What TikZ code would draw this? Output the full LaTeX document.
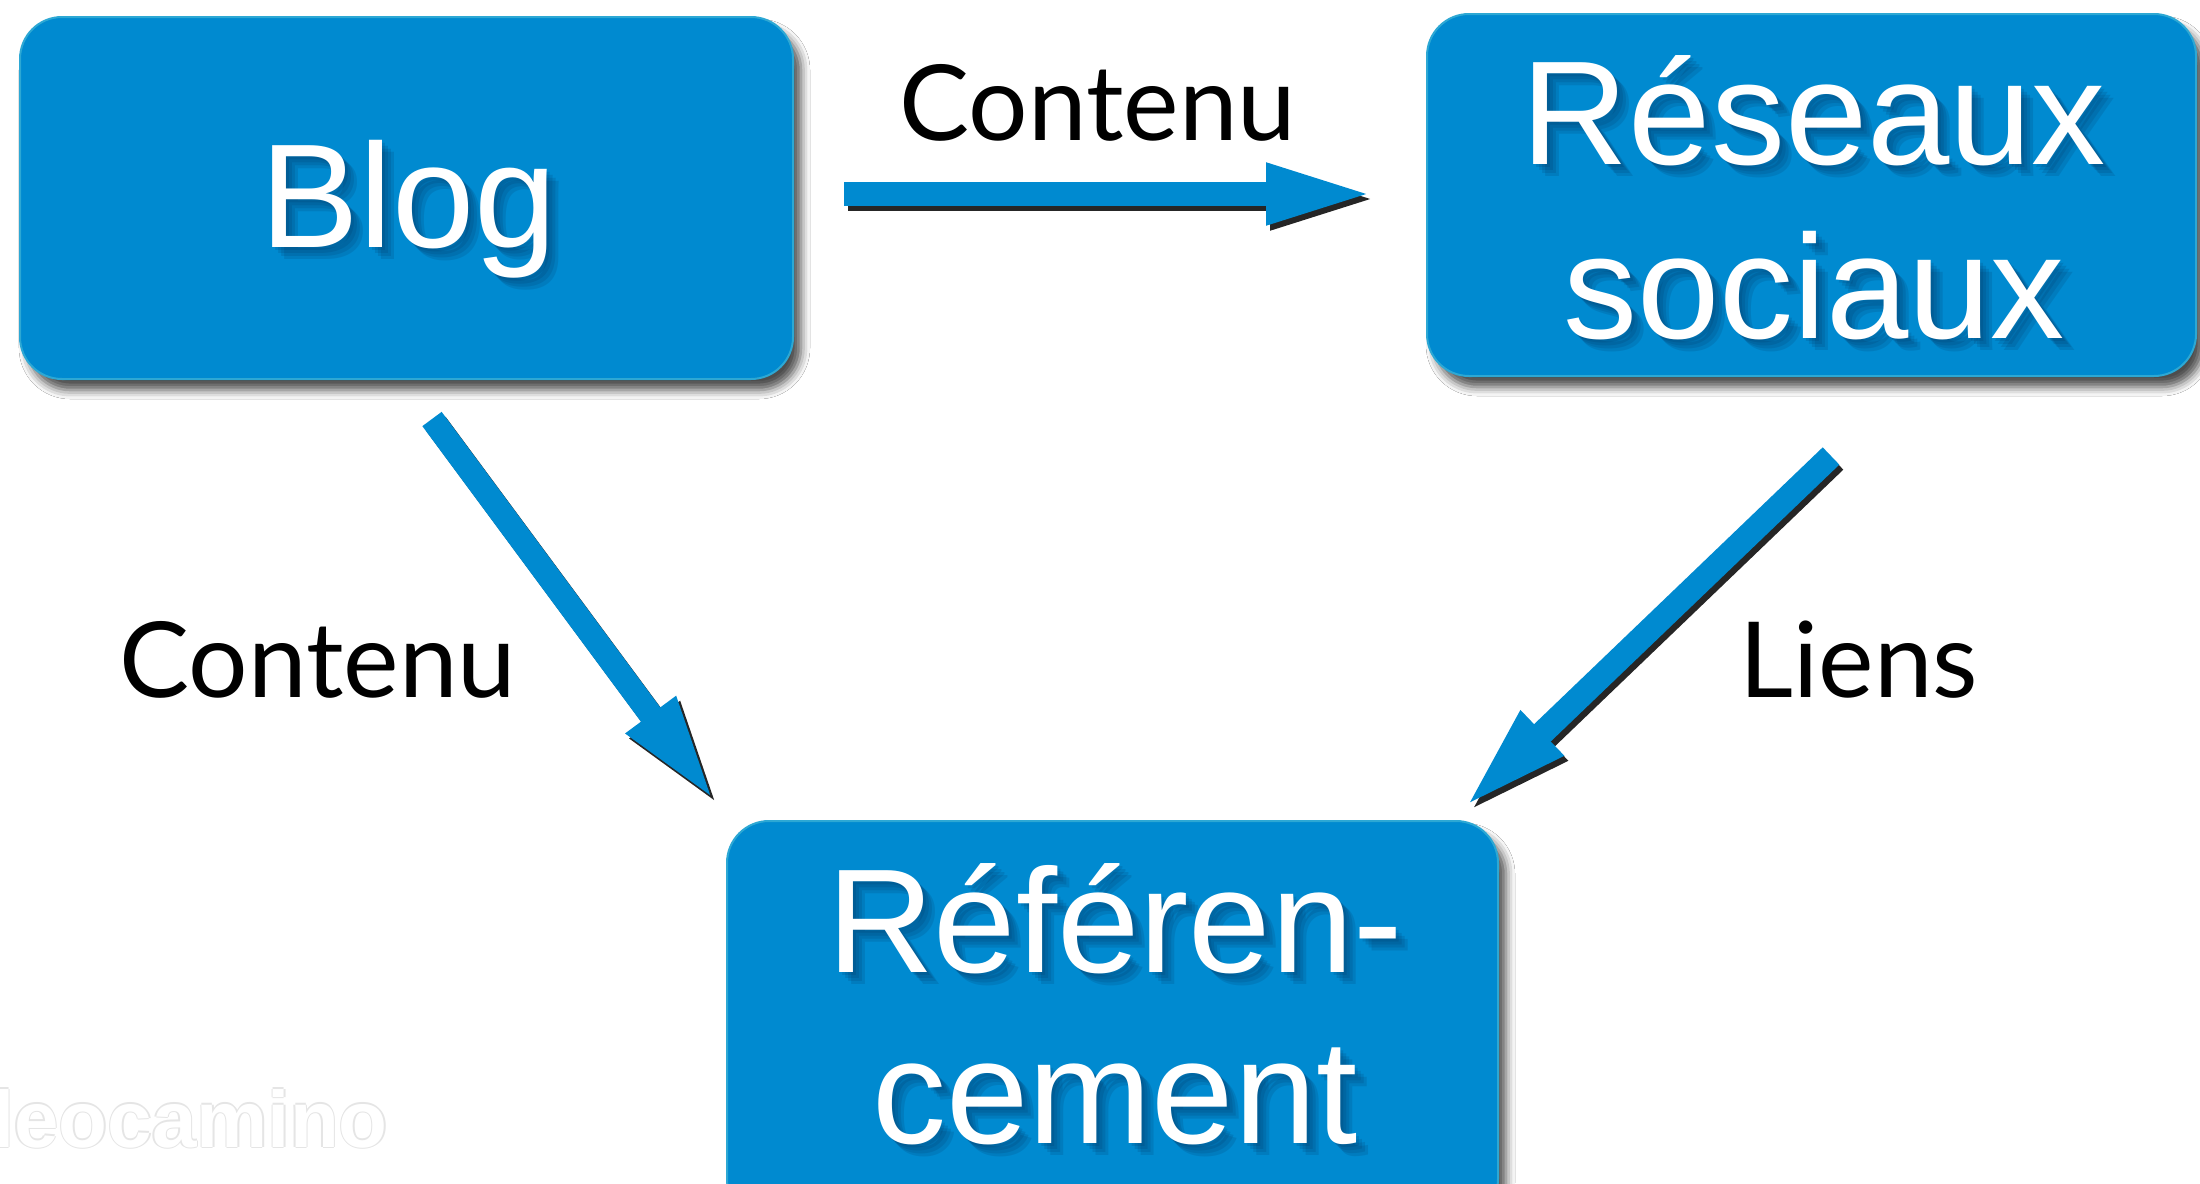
\documentclass[tikz,border=0pt]{standalone}
\usepackage{fontspec}
\setmainfont{Liberation Sans}
\newfontfamily\labelfont{Lato}
\usetikzlibrary{arrows.meta,shadows.blur}
\definecolor{boxblue}{RGB}{0,138,208}
\definecolor{boxedge}{RGB}{45,168,212}
\definecolor{txtshadow}{RGB}{0,35,75}
\newcommand\boxtext[4]{%
  \foreach \d in {3,6,9,12}{%
    \node[boxfont, text=txtshadow, opacity=0.13, anchor=base, xshift=\d pt, yshift=-\d pt] (#1s\d) at (#2,#3) {#4};}
  \node[boxfont, anchor=base] (#1) at (#2,#3) {#4};}
\begin{document}
\begin{tikzpicture}[x=1pt,y=-1pt,
  bluebox/.style={rectangle, rounded corners=42pt, fill=boxblue, draw=boxedge, line width=2pt,
    blur shadow={shadow xshift=8pt, shadow yshift=-11pt, shadow blur radius=9pt, shadow opacity=70}},
  boxfont/.style={text=white, inner sep=0pt, font=\fontsize{148}{172}\selectfont},
  lbl/.style={text=black, inner sep=0pt, font=\labelfont\fontsize{105}{125}\selectfont},
  conn/.style={draw=boxblue, line width=24pt, -{Triangle[length=110pt,width=55pt]},
    preaction={draw=black, line width=24pt, -{Triangle[length=110pt,width=55pt]}, opacity=0.85,
      transform canvas={shift={(4pt,-5pt)}}}},
  wm/.style={inner sep=0pt, font=\bfseries\fontsize{80}{96}\selectfont}]
\useasboundingbox (0,0) rectangle (2200,1183);
\clip (0,0) rectangle (2200,1183);
\fill[white] (0,0) rectangle (2200,1183);
% watermark
\foreach \dx/\dy [count=\i] in {1.5/0,-1.5/0,0/1.5,0/-1.5}{
  \node[wm, text=black!10, anchor=base west, xshift=\dx pt, yshift=\dy pt] (wm\i) at (-8,1147) {leocamino};}
\node[wm, text=white, anchor=base west] (wm) at (-8,1147) {leocamino};
% boxes
\node[bluebox, minimum width=773pt, minimum height=362pt] (blog) at (406.5,198) {};
\node[bluebox, minimum width=769pt, minimum height=362pt] (reseaux) at (1811.5,195) {};
\node[bluebox, minimum width=771pt, minimum height=400pt] (ref) at (1112.5,1021) {};
% box texts
\boxtext{blogt}{409}{247}{Blog}
\boxtext{rest1}{1814}{164}{Réseaux}
\boxtext{rest2}{1814}{338}{sociaux}
\boxtext{reft1}{1115}{972}{Référen-}
\boxtext{reft2}{1115}{1143}{cement}
% connectors
\coordinate (c1s) at (844,194);
\coordinate (c1e) at (1376,194);
\coordinate (c2s) at (432,419);
\coordinate (c2e) at (716,803);
\coordinate (c3s) at (1831,456);
\coordinate (c3e) at (1463,809);
\draw[conn] (c1s) -- (c1e);
\draw[conn] (c2s) -- (c2e);
\draw[conn] (c3s) -- (c3e);
% labels
\node[lbl, anchor=base] (l1) at (1098,140) {Contenu};
\node[lbl, anchor=base] (l2) at (318,697) {Contenu};
\node[lbl, anchor=base] (l3) at (1859,697) {Liens};
\end{tikzpicture}
\end{document}
